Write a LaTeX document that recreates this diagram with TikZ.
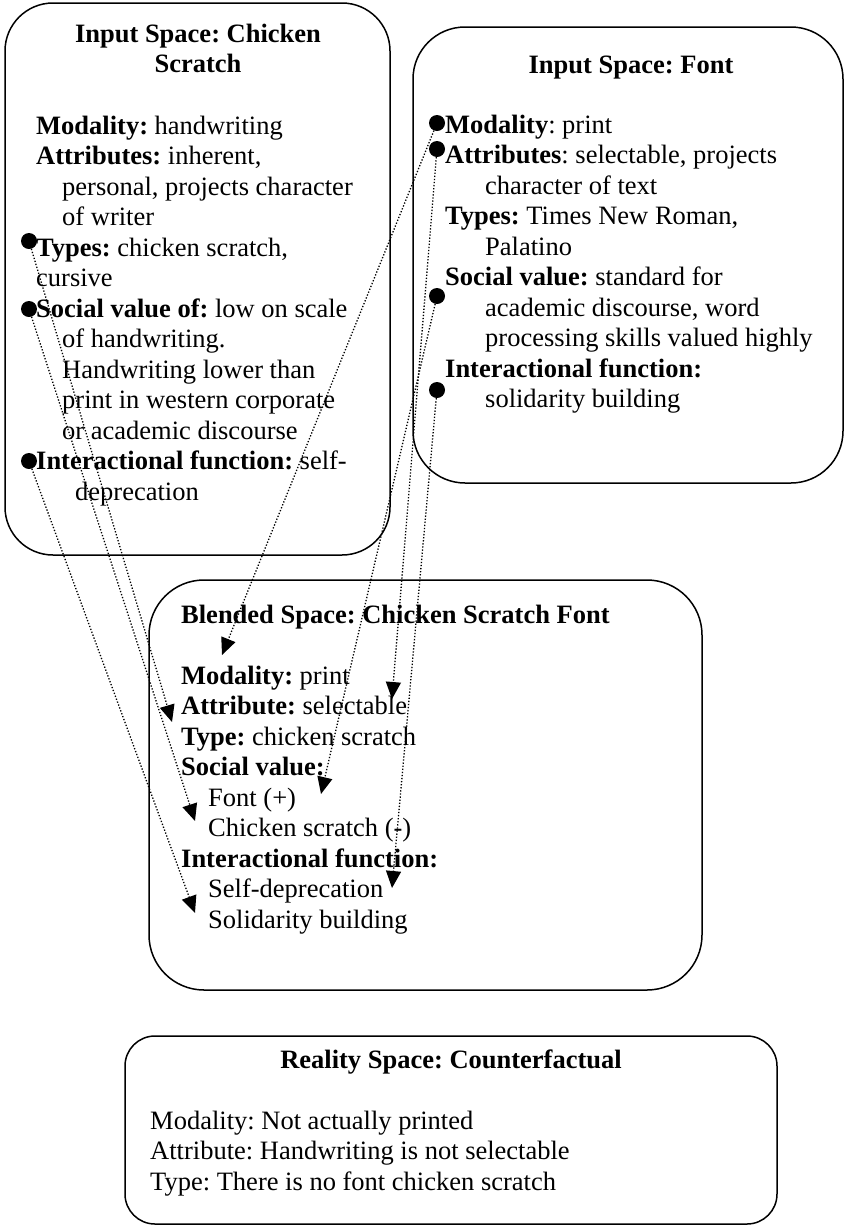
\documentclass[tikz,border=0pt]{standalone}
\usepackage{fontspec}
\setmainfont{Liberation Serif}
\usetikzlibrary{arrows.meta}

\newcommand{\bodyfont}{\fontsize{26.5}{30.5}\selectfont\frenchspacing}
\newcommand{\ind}{\hspace*{26pt}}

\tikzset{
  spacebox/.style={draw, line width=1.5pt, rounded corners=#1, inner sep=0pt},
  spacebox/.default=50pt,
  txt/.style={anchor=north west, inner sep=0pt, align=left, font=\bodyfont},
  ttl/.style={anchor=north, inner sep=0pt, align=center, font=\bodyfont\bfseries},
  dot/.style={circle, fill, inner sep=0pt, minimum size=16pt},
  link/.style={line width=1.3pt, dash pattern=on 1.3pt off 1.8pt, -{Triangle[length=17pt, width=15pt]}}
}

\begin{document}
\begin{tikzpicture}[x=1pt, y=-1pt]
  \useasboundingbox (0,0) rectangle (845,1227);

  % the four spaces
  \node[spacebox=48pt, minimum width=385pt, minimum height=552pt] (scratch) at (197.5,279) {};
  \node[spacebox=52pt, minimum width=430pt, minimum height=456pt] (font) at (628,255) {};
  \node[spacebox=55pt, minimum width=553pt, minimum height=410pt] (blend) at (425.5,785) {};
  \node[spacebox=30pt, minimum width=652pt, minimum height=188pt] (reality) at (451,1130) {};

  % input space: chicken scratch (strut height 21.35)
  \node[ttl] (scratchtitle) at (198,20.65) {\strut Input Space: Chicken\\Scratch};
  \node[txt] (scratchbody) at (36,112.65) {\strut\textbf{Modality:} handwriting\\
    \textbf{Attributes:} inherent,\\
    \ind personal, projects character\\
    \ind of writer\\
    \textbf{Types:} chicken scratch,\\
    cursive\\
    \textbf{Social value of:} low on scale\\
    \ind of handwriting.\\
    \ind Handwriting lower than\\
    \ind print in western corporate\\
    \ind or academic discourse\\
    \textbf{Interactional function:} self-\\
    \hspace*{39pt}deprecation};

  % input space: font
  \node[ttl] (fonttitle) at (631,51.65) {\strut Input Space: Font};
  \node[txt] (fontbody) at (445,111.65) {\strut\textbf{Modality}: print\\
    \textbf{Attributes}: selectable, projects\\
    \hspace*{40pt}character of text\\
    \textbf{Types:} Times New Roman,\\
    \hspace*{40pt}Palatino\\
    \textbf{Social value:} standard for\\
    \hspace*{40pt}academic discourse, word\\
    \hspace*{40pt}processing skills valued highly\\
    \textbf{Interactional function:}\\
    \hspace*{40pt}solidarity building};

  % blended space
  \node[txt] (blendtitle) at (181,601.65) {\strut\textbf{Blended Space: Chicken Scratch Font}};
  \node[txt] (blendbody) at (181,662.65) {\strut\textbf{Modality:} print\\
    \textbf{Attribute:} selectable\\
    \textbf{Type:} chicken scratch\\
    \textbf{Social value:}\\
    \hspace*{27pt}Font (+)\\
    \hspace*{27pt}Chicken scratch (-)\\
    \textbf{Interactional function:}\\
    \hspace*{27pt}Self-deprecation\\
    \hspace*{27pt}Solidarity building};

  % reality space
  \node[ttl] (realitytitle) at (451,1046.65) {\strut Reality Space: Counterfactual};
  \node[txt] (realitybody) at (150,1107.65) {\strut Modality: Not actually printed\\
    Attribute: Handwriting is not selectable\\
    Type: There is no font chicken scratch};

  % mapping dots
  \node[dot] (csTypes) at (29,241) {};
  \node[dot] (csSocial) at (29,309) {};
  \node[dot] (csInter) at (29,461) {};
  \node[dot] (fMod) at (437,123) {};
  \node[dot] (fAttr) at (437,149) {};
  \node[dot] (fSocial) at (437,296) {};
  \node[dot] (fInter) at (437,390) {};

  % arrow ends in the blend
  \coordinate (bModality) at (222,655);
  \coordinate (bSelect) at (392,699);
  \coordinate (bAttr) at (172,722);
  \coordinate (bFontPlus) at (321,794);
  \coordinate (bScratchMinus) at (195,821);
  \coordinate (bSelfDep) at (392,888);
  \coordinate (bSolidarity) at (195,913);

  \draw[link] (fMod) -- (bModality);
  \draw[link] (fAttr) -- (bSelect);
  \draw[link] (fSocial) -- (bFontPlus);
  \draw[link] (fInter) -- (bSelfDep);
  \draw[link] (csTypes) -- (bAttr);
  \draw[link] (csSocial) -- (bScratchMinus);
  \draw[link] (csInter) -- (bSolidarity);
\end{tikzpicture}
\end{document}
